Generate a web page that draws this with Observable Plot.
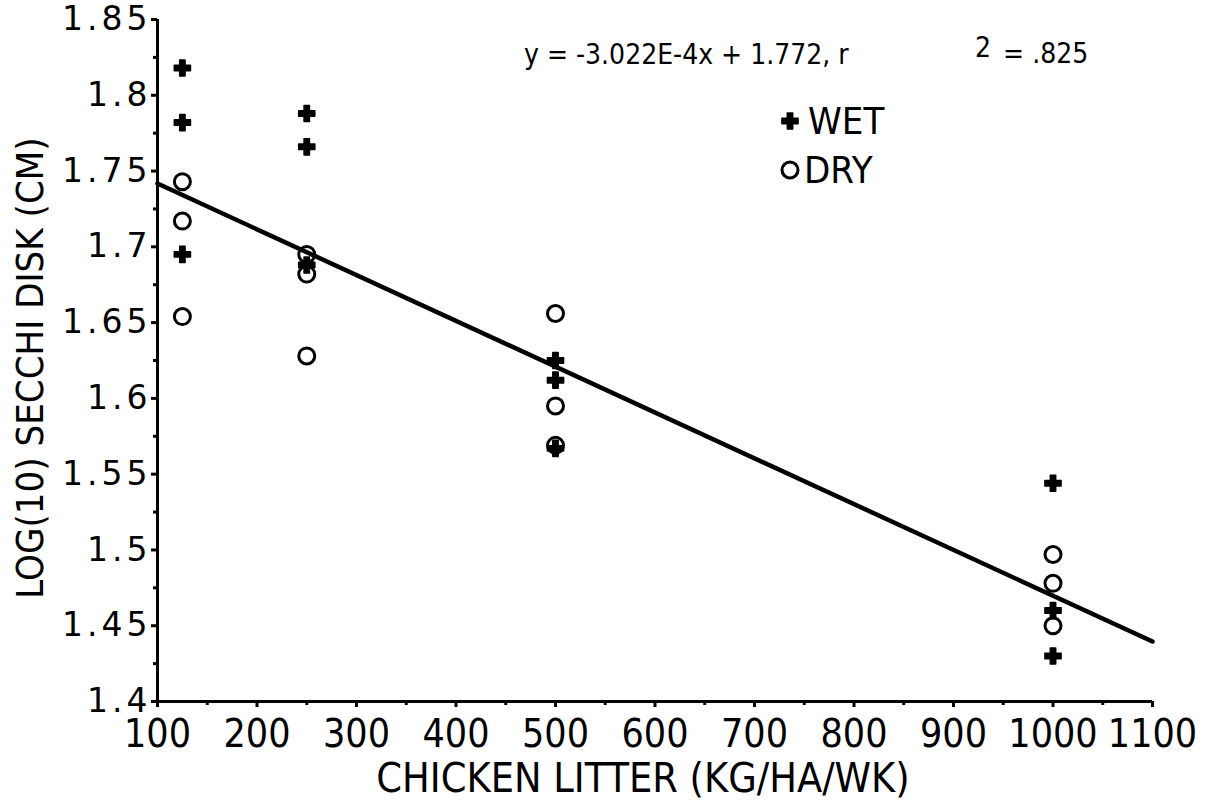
<!DOCTYPE html>
<html><head><meta charset="utf-8">
<script src="https://cdn.jsdelivr.net/npm/d3@7"></script>
<script src="https://cdn.jsdelivr.net/npm/@observablehq/plot@0.6"></script>
<style>
body{margin:0;background:#fff;}
#wrap{position:relative;width:1209px;height:804px;overflow:hidden;background:#fff;}
.t{position:absolute;color:#000;line-height:1;white-space:nowrap;font-family:"DejaVu Sans Condensed","Liberation Sans Narrow","DejaVu Sans",sans-serif;}
</style></head><body><div id="wrap"></div>
<script>
// Data: litter rate (kg/ha/wk) and log10 Secchi disk depth (cm)
const wetX = [125,125,125, 250,250,250, 500,500,500, 1000,1000,1000];
const wetY = [1.818,1.782,1.695, 1.788,1.766,1.688, 1.625,1.612,1.567, 1.544,1.460,1.430];
const dryX = [125,125,125, 250,250,250, 500,500,500, 1000,1000,1000];
const dryY = [1.743,1.717,1.654, 1.695,1.682,1.628, 1.656,1.595,1.569, 1.497,1.478,1.450];
const fitSlope = -3.022e-4;
const fitIntercept = 1.772;
const fitRange = [100, 1100];
const xTicks = [100,200,300,400,500,600,700,800,900,1000,1100];
const xMinorTicks = [150,250,350,450,550,650,750,850,950,1050];
const yTicks = [1.4,1.45,1.5,1.55,1.6,1.65,1.7,1.75,1.8,1.85];
const yMinorTicks = [1.425,1.475,1.525,1.575,1.625,1.675,1.725,1.775,1.825];
const equationText = "y = -3.022E-4x + 1.772, r";
const r2Sup = "2";
const r2Rest = "= .825";
const xTitle = "CHICKEN LITTER (KG/HA/WK)";
const yTitle = "LOG(10) SECCHI DISK (CM)";
const legendLabels = ["WET", "DRY"];

const wet = wetX.map((x,i)=>({x, y: wetY[i]}));
const dry = dryX.map((x,i)=>({x, y: dryY[i]}));
const fit = fitRange.map(x=>({x, y: fitIntercept + fitSlope*x}));

const tickFont = "DejaVu Sans";
const condFont = '"DejaVu Sans Condensed","Liberation Sans Narrow","DejaVu Sans",sans-serif';

const chart = Plot.plot({
  width: 1209, height: 804,
  marginLeft: 157, marginRight: 57, marginTop: 19, marginBottom: 103,
  x: {domain: [100, 1100]},
  y: {domain: [1.4, 1.85]},
  style: {background: "white", color: "black", overflow: "visible"},
  marks: [
    Plot.axisY(yTicks, {tickSize: 6, tickPadding: 0, strokeWidth: 3, fontSize: 33, fontFamily: tickFont, tickFormat: d => String(+d.toFixed(3)), label: null}),
    Plot.axisY(yMinorTicks, {tickSize: 4, strokeWidth: 3, tickFormat: () => "", label: null}),
    Plot.axisX(xTicks, {tickSize: 6, tickPadding: 12, strokeWidth: 3, fontSize: 39, fontFamily: condFont, tickFormat: d => String(d), label: null}),
    Plot.axisX(xMinorTicks, {tickSize: 4, strokeWidth: 3, tickFormat: () => "", label: null}),
    Plot.ruleX([100], {strokeWidth: 3}),
    Plot.ruleY([1.4], {strokeWidth: 3}),
    Plot.line(fit, {x: "x", y: "y", stroke: "black", strokeWidth: 4.5}),
    Plot.dot(wet, {x: "x", y: "y", symbol: "cross", r: 6.8, fill: "black", stroke: "black", strokeWidth: 1.5, strokeLinejoin: "round"}),
    Plot.dot(dry, {x: "x", y: "y", symbol: "circle", r: 8, fill: "none", stroke: "black", strokeWidth: 3})
  ]
});
const wrap = document.getElementById("wrap");
wrap.appendChild(chart);
d3.select(chart).selectAll('[aria-label="y-axis tick label"] text').style("letter-spacing", "4px");

function addText(txt, left, top, size, extra) {
  const d = document.createElement("div");
  d.className = "t";
  d.textContent = txt;
  d.style.left = left + "px";
  d.style.top = top + "px";
  d.style.fontSize = size + "px";
  if (extra) Object.assign(d.style, extra);
  wrap.appendChild(d);
  return d;
}
addText(xTitle, 643, 778, 41, {transform: "translate(-50%,-50%)"});
addText(yTitle, 30, 368, 38, {transform: "translate(-50%,-50%) rotate(-90deg)"});
addText(equationText, 524, 55, 28, {transform: "translateY(-50%)"});
const r2 = addText("", 975, 54, 28, {transform: "translateY(-50%)"});
const sup = document.createElement("span");
sup.textContent = r2Sup;
sup.style.position = "relative"; sup.style.top = "-6px"; sup.style.marginRight = "12px";
const rest = document.createElement("span");
rest.textContent = r2Rest;
r2.appendChild(sup); r2.appendChild(rest);
// legend
const lg = d3.select(wrap).append("svg").attr("width", 1209).attr("height", 804)
  .style("position", "absolute").style("left", 0).style("top", 0).style("pointer-events", "none");
lg.append("path").attr("d", d3.symbol(d3.symbolCross, Math.PI * 6.8 * 6.8)()).attr("transform", "translate(790,121)")
  .attr("fill", "black").attr("stroke", "black").attr("stroke-width", 1.5).attr("stroke-linejoin", "round");
lg.append("circle").attr("cx", 790).attr("cy", 170).attr("r", 8).attr("fill", "none").attr("stroke", "black").attr("stroke-width", 3);
addText(legendLabels[0], 808, 121, 38, {transform: "translateY(-50%)"});
addText(legendLabels[1], 804, 170, 38, {transform: "translateY(-50%)"});
</script></body></html>
